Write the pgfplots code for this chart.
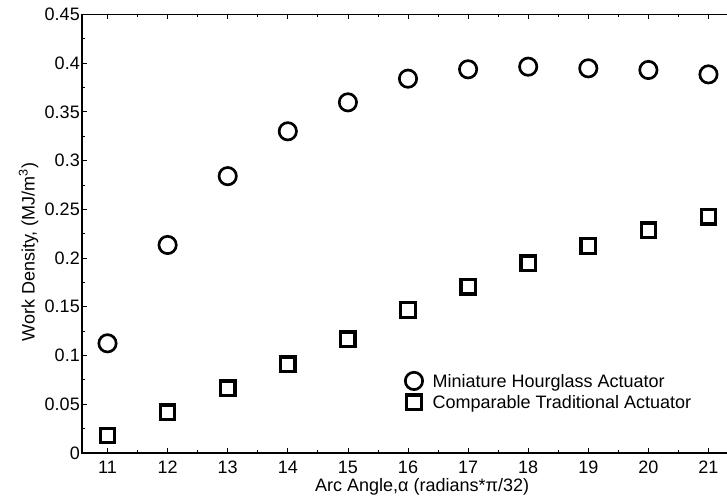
\documentclass[border=0pt]{standalone}
\usepackage{fontspec}
\setmainfont{Liberation Sans}
\usepackage{pgfplots}
\pgfplotsset{compat=1.18}
\newcommand{\chartfont}{\fontsize{13.5}{16.2}\selectfont}
\pgfplotsset{dotlegend/.style={legend image code/.code={\draw[##1] plot coordinates {(0pt,0pt)};}}}
\begin{document}
\begin{tikzpicture}
\begin{axis}[
  scale only axis,
  width=492.4pt, height=329pt,
  xmin=10.576, xmax=21.5, ymin=0, ymax=0.45,
  xtick={11,12,13,14,15,16,17,18,19,20,21},
  xticklabels={11,12,13,14,15,16,17,18,19,20,21},
  ytick={0,0.05,0.1,0.15,0.2,0.25,0.3,0.35,0.4,0.45},
  yticklabels={0,0.05,0.1,0.15,0.2,0.25,0.3,0.35,0.4,0.45},
  minor x tick num=1, minor y tick num=1,
  tick align=inside,
  major tick length=3.75pt, minor tick length=2pt,
  tick style={black, line width=0.6pt},
  axis line style={line width=1.1pt},
  /pgf/number format/assume math mode=true,
  tick label style={font=\chartfont},
  xticklabel style={inner sep=0pt, yshift=-6pt},
  yticklabel style={inner sep=0pt, xshift=-1.5pt},
  label style={font=\chartfont},
  xlabel={Arc Angle,α (radians*π/32)},
  ylabel={Work Density, (MJ/m\textsuperscript{3})},
  xlabel style={at={(axis description cs:0.518,-0.0775)}, anchor=center},
  ylabel style={at={(axis description cs:-0.0815,0.458)}, anchor=center},
  legend style={at={(axis description cs:0.492,0.1846)}, anchor=north west,
    draw=none, fill=none, inner sep=0pt, font=\chartfont,
    row sep=4pt, column sep=0pt,
    nodes={inner sep=0pt, text depth=0pt}},
  legend cell align=left,
  clip=false,
]
\addplot[only marks, black, mark=o, mark size=6.5pt, mark options={solid, line width=2pt}, dotlegend]
  coordinates {(11,0.1125) (12,0.2134) (13,0.2840) (14,0.3300) (15,0.3597) (16,0.3840)
               (17,0.3936) (18,0.3963) (19,0.3946) (20,0.3929) (21,0.3884)};
\addlegendentry{\hspace{7.5pt}Miniature Hourglass Actuator}
\addplot[only marks, black, mark=square, mark size=5.4pt, mark options={solid, line width=2.5pt}, dotlegend]
  coordinates {(11,0.0178) (12,0.0417) (13,0.0663) (14,0.0910) (15,0.1166) (16,0.1467)
               (17,0.1706) (18,0.1946) (19,0.2123) (20,0.2287) (21,0.2424)};
\addlegendentry{\hspace{7.5pt}Comparable Traditional Actuator}
\coordinate (bbsw) at (axis cs:9.211,-0.05026);
\coordinate (bbne) at (axis cs:21.308,0.4647);
\end{axis}
\pgfresetboundingbox
\path[use as bounding box] (bbsw) rectangle (bbne);
\end{tikzpicture}
\end{document}
